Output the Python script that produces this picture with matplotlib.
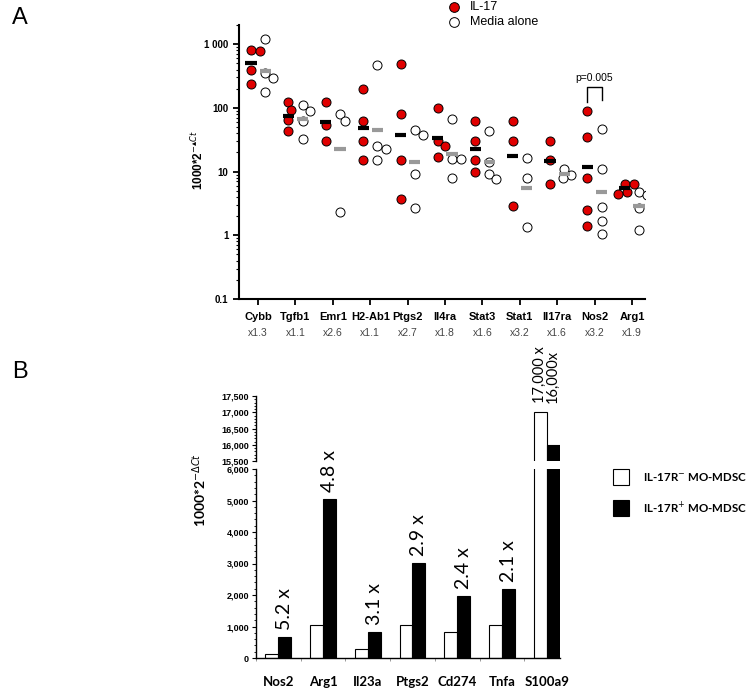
import numpy as np
import matplotlib.pyplot as plt
from matplotlib.lines import Line2D
from matplotlib.patches import Rectangle
from matplotlib.ticker import FixedLocator, MultipleLocator, NullFormatter, FuncFormatter

plt.rcParams['font.family'] = ['Liberation Sans', 'DejaVu Sans']

# Panel A: qPCR of MO-MDSC, IL-17 vs media alone
genes_a = ["Cybb", "Tgfb1", "Emr1", "H2-Ab1", "Ptgs2", "Il4ra",
           "Stat3", "Stat1", "Il17ra", "Nos2", "Arg1"]
folds_a = ["x1.3", "x1.1", "x2.6", "x1.1", "x2.7", "x1.8",
           "x1.6", "x3.2", "x1.6", "x3.2", "x1.9"]
il17 = [
    [800, 790, 400, 240],
    [124, 93, 65, 44],
    [124, 54, 30],
    [199, 63, 30, 15],
    [480, 81, 15, 3.7],
    [100, 30, 25, 17],
    [63, 30, 15, 10],
    [63, 30, 2.9],
    [30, 15, 6.5],
    [90, 35, 8, 2.5, 1.4],
    [6.5, 6.3, 4.8, 4.5],
]
media = [
    [1200, 350, 295, 175],
    [109, 90, 62, 32],
    [81, 62, 2.3],
    [470, 25, 23, 15],
    [45, 38, 9.2, 2.7],
    [66, 16, 15.5, 7.9],
    [43, 14, 9.2, 7.7],
    [16.5, 7.9, 1.35],
    [11, 9, 7.8],
    [46, 11, 2.8, 1.7, 1.05],
    [4.8, 4.3, 2.7, 1.2],
]
mean_il17 = [500, 75, 59, 49, 38, 34, 23, 17.5, 14.5, 12, 5.6]
mean_media = [380, 67, 22.6, 45, 14.3, 19, 14.3, 5.6, 9.2, 4.8, 2.9]

# Panel B: sorted IL-17R- vs IL-17R+ MO-MDSC
genes_b = ["Nos2", "Arg1", "Il23a", "Ptgs2", "Cd274", "Tnfa", "S100a9"]
neg_b = [140, 1050, 270, 1040, 820, 1040, 17000]
pos_b = [680, 5050, 840, 3020, 1970, 2180, 16000]
folds_b = ["5.2 x", "4.8 x", "3.1 x", "2.9 x", "2.4 x", "2.1 x"]
s100_labels = ["17,000 x", "16,000x"]

W, H = 750, 689
fig = plt.figure(figsize=(7.5, 6.89), dpi=100)


def fx(px):
    return px / W


def fy(py):
    return 1 - py / H


def swarm(vals, center, px_x=37.4, px_y=64.0, diam=8.5):
    # simple beeswarm in pixel space, returns x positions in data units
    placed, xs = [], []
    cands = [0] + [s * k for k in range(1, 30) for s in (1, -1)]
    for v in vals:
        yp = np.log10(v) * px_y
        for off in cands:
            if all((off - a) ** 2 + (yp - b) ** 2 >= diam ** 2 for a, b in placed):
                break
        placed.append((off, yp))
        xs.append(center + off / px_x)
    return xs


# ---------------- panel A ----------------
ax = fig.add_axes([fx(239), fy(299), fx(406), 274 / H])
ax.set_yscale('log')
ax.set_ylim(0.1, 2000)
ax.set_xlim(-0.51, 10.35)
dx = 0.19
for i in range(len(genes_a)):
    xr = swarm(il17[i], i - dx)
    ax.plot(xr, il17[i], 'o', ms=6.5, mfc='#e00000', mec='black', mew=0.7, zorder=3)
    xo = swarm(media[i], i + dx)
    ax.plot(xo, media[i], 'o', ms=6.5, mfc='white', mec='black', mew=0.7, zorder=3)
    ax.plot([i - dx - 0.15, i - dx + 0.15], [mean_il17[i]] * 2, color='black', lw=3, solid_capstyle='butt', zorder=4)
    ax.plot([i + dx - 0.15, i + dx + 0.15], [mean_media[i]] * 2, color='#999999', lw=3, solid_capstyle='butt', zorder=4)

for s in ['top', 'right']:
    ax.spines[s].set_visible(False)
for s in ['left', 'bottom']:
    ax.spines[s].set_linewidth(1.5)
ax.set_xticks(range(len(genes_a)))
ax.set_xticklabels(genes_a, fontsize=8, fontweight='bold')
ax.tick_params(axis='x', length=4, width=1.3, pad=5)
ax.yaxis.set_major_locator(FixedLocator([0.1, 1, 10, 100, 1000]))
ax.yaxis.set_major_formatter(FuncFormatter(
    lambda v, p: {0.1: '0.1', 1: '1', 10: '10', 100: '100', 1000: '1 000'}.get(round(v, 1), '')))
ax.yaxis.set_minor_formatter(NullFormatter())
ax.tick_params(axis='y', which='major', length=4, width=1.3, labelsize=7)
ax.tick_params(axis='y', which='minor', length=2, width=0.8)
for lab in ax.get_yticklabels():
    lab.set_fontweight('bold')
for i, f in enumerate(folds_a):
    ax.text(i, -0.124, f, transform=ax.get_xaxis_transform(), ha='center', va='center',
            fontsize=7.5, color='#444444')

# significance bracket on Nos2
i_nos = genes_a.index("Nos2")
ax.plot([i_nos - dx, i_nos - dx, i_nos + dx, i_nos + dx], [125, 210, 210, 135], color='black', lw=1)
ax.text(i_nos, 245, "p=0.005", ha='center', va='bottom', fontsize=7.5)

fig.text(fx(198), fy(160), r"1000*2$^{-\blacktriangle Ct}$", rotation=90, ha='center', va='center',
         fontsize=8.5, fontweight='bold')

# legend A
fig.add_artist(Line2D([fx(454)], [fy(7)], marker='o', ms=7, mfc='#e00000', mec='black', mew=0.7,
                      transform=fig.transFigure))
fig.add_artist(Line2D([fx(454)], [fy(22)], marker='o', ms=7, mfc='white', mec='black', mew=0.7,
                      transform=fig.transFigure))
fig.text(fx(470), fy(7), "IL-17", va='center', fontsize=9)
fig.text(fx(470), fy(22), "Media alone", va='center', fontsize=9)

fig.text(fx(12), fy(18), "A", fontsize=17, va='center')
fig.text(fx(12), fy(372), "B", fontsize=17, va='center')

# ---------------- panel B ----------------
bw = 0.29
xb = np.arange(len(genes_b))
ax_lo = fig.add_axes([fx(256), fy(658), fx(304), 189 / H])
ax_hi = fig.add_axes([fx(256), fy(461), fx(304), 65 / H])
ax_hi.patch.set_alpha(0)
for a in (ax_lo, ax_hi):
    a.bar(xb - bw / 2, neg_b, bw, color='white', edgecolor='black', lw=0.8)
    a.bar(xb + bw / 2, pos_b, bw, color='black', edgecolor='black', lw=0.8)
    a.set_xlim(-0.49, 6.3)
    a.spines['top'].set_visible(False)
    a.spines['right'].set_visible(False)
    a.spines['left'].set_linewidth(1)
    a.tick_params(axis='y', which='major', length=3, width=0.8, labelsize=6.5, pad=2)
    a.tick_params(axis='y', which='minor', length=1.5, width=0.6)
    a.yaxis.set_major_formatter(FuncFormatter(lambda v, p: f"{int(v):,}"))

ax_lo.set_ylim(0, 6000)
ax_lo.yaxis.set_major_locator(MultipleLocator(1000))
ax_lo.yaxis.set_minor_locator(MultipleLocator(200))
ax_lo.spines['bottom'].set_linewidth(1)
ax_lo.set_xticks(xb)
ax_lo.set_xticklabels(genes_b, fontsize=9.5, fontweight='bold', family='Lato')
ax_lo.set_xticks(np.arange(len(genes_b)) - 0.5, minor=True)
ax_lo.tick_params(axis='x', which='major', length=0, pad=13)
ax_lo.tick_params(axis='x', which='minor', length=2, width=0.6, color='#888888')

ax_hi.set_ylim(15500, 17500)
ax_hi.yaxis.set_major_locator(MultipleLocator(500))
ax_hi.yaxis.set_minor_locator(MultipleLocator(100))
ax_hi.spines['bottom'].set_visible(False)
ax_hi.set_xticks([])
for lab in ax_lo.get_yticklabels() + ax_hi.get_yticklabels():
    lab.set_fontweight('bold')

for i, f in enumerate(folds_b):
    ax_lo.text(xb[i] + bw / 2, pos_b[i] + 220, f, rotation=90, ha='center', va='bottom',
               fontsize=14, family='Lato', clip_on=False, zorder=5)
ax_hi.text(xb[6] - bw / 2, 17290, s100_labels[0], rotation=90, ha='center', va='bottom',
           fontsize=10.5, family='Lato', clip_on=False)
ax_hi.text(xb[6] + bw / 2, 17290, s100_labels[1], rotation=90, ha='center', va='bottom',
           fontsize=10.5, family='Lato', clip_on=False)

fig.text(fx(200), fy(490), r"1000*2$^{-\Delta Ct}$", rotation=90, ha='center', va='center',
         fontsize=10, fontweight='bold', family='Lato')

# legend B
fig.add_artist(Rectangle((fx(613), fy(485)), fx(16), 16 / H, facecolor='white', edgecolor='black',
                         lw=0.8, transform=fig.transFigure))
fig.add_artist(Rectangle((fx(613), fy(516)), fx(16), 16 / H, facecolor='black', edgecolor='black',
                         lw=0.8, transform=fig.transFigure))
fig.text(fx(643), fy(477), r"IL-17R$^{-}$ MO-MDSC", va='center', fontsize=8.3, fontweight='bold', family='Lato')
fig.text(fx(643), fy(508), r"IL-17R$^{+}$ MO-MDSC", va='center', fontsize=8.3, fontweight='bold', family='Lato')

fig.savefig("out.png", dpi=100)
